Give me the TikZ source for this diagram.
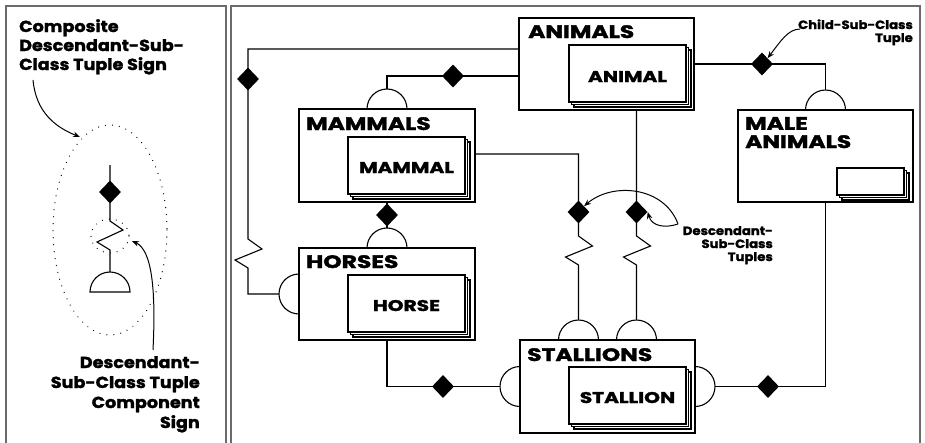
\documentclass[tikz,border=0pt]{standalone}
\usepackage{fontspec}
\setmainfont{Poppins}
\newfontfamily\heavyfont{Poppins}[BoldFeatures={FakeStretch=1.3,FakeBold=1.8}]
\newfontfamily\notefont{Poppins}[BoldFeatures={FakeStretch=1.1,FakeBold=1.6}]
\usetikzlibrary{shapes.geometric,shadows,arrows.meta}

\begin{document}
\begin{tikzpicture}[x=1pt,y=-1pt,
  panel/.style={draw=black!58, line width=1.4pt},
  outerbox/.style={draw, line width=2.2pt, fill=white, anchor=north west,
    inner sep=0pt, outer sep=0pt},
  innerbox/.style={draw, line width=1.9pt, fill=white, anchor=north west,
    inner sep=0pt, outer sep=0pt, minimum width=117pt, minimum height=57pt,
    double copy shadow={shadow xshift=2.5pt, shadow yshift=-2.5pt, line width=1.3pt}},
  title/.style={font=\heavyfont\bfseries\fontsize{18}{18}\selectfont,
    anchor=base west, inner sep=0pt},
  itext/.style={font=\heavyfont\bfseries\fontsize{15.5}{15.5}\selectfont,
    anchor=base, inner sep=0pt},
  note/.style={font=\notefont\bfseries\fontsize{#1}{#1}\selectfont, inner sep=0pt},
  conn/.style={draw, line width=1.1pt},
  semi/.style={draw, line width=1.1pt},
  dia/.style={diamond, fill=black, draw=none, minimum width=22pt,
    minimum height=23pt, inner sep=0pt},
  dots/.style={draw, line width=1.3pt, line cap=round,
    dash pattern=on 0.01pt off 7pt},
  arr/.style={draw, line width=1pt, -{Stealth[length=7pt,width=5.5pt]}},
]
\useasboundingbox (0,0) rectangle (925,442);

% ---------- panels ----------
\draw[panel] (6,460) -- (6,6) -- (226,6) -- (226,460);
\draw[panel] (231,460) -- (231,6) -- (920,6) -- (920,460);

% ---------- legend sign ----------
\draw[dots] (110,230) ellipse[x radius=57, y radius=105];
\draw[dots] (110,236) ellipse[x radius=19, y radius=17];
\coordinate (legTop) at (110,165);
\coordinate (legZig) at (110,221);
\coordinate (legSemi) at (110,292);
\coordinate (legSemiTip) at (110,272);
\draw[conn] (legTop) -- (legZig) -- ++(13,9) -- ++(-26,12) -- ++(13,8) -- (legSemiTip);
\draw[semi] ([xshift=-20pt]legSemi) arc[start angle=180, end angle=360, radius=20] -- cycle;
\node[dia] (legDia) at (110,192) {};

\node[note=16, anchor=base west] (compLbl) at (19,70)
  {\fontsize{16}{19}\selectfont\begin{tabular}[b]{@{}l@{}}Composite\\Descendant-Sub-\\Class Tuple Sign\end{tabular}};
\node[note=16, anchor=base east] (compoLbl) at (200,428)
  {\fontsize{16}{20}\selectfont\begin{tabular}[b]{@{}r@{}}Descendant-\\Sub-Class Tuple\\Component\\Sign\end{tabular}};
\coordinate (compFrom) at (33,80);
\coordinate (compTo) at (80,137);
\coordinate (compoFrom) at (153,350);
\coordinate (compoTo) at (132,241);
\draw[arr] (compFrom) .. controls (36,112) and (55,127) .. (compTo);
\draw[arr] (compoFrom) .. controls (156,290) and (152,250) .. (compoTo);

% ---------- class boxes ----------
\node[outerbox, minimum width=175pt, minimum height=92pt] (animals) at (519,18) {};
\node[outerbox, minimum width=176pt, minimum height=93pt] (mammals) at (299,109) {};
\node[outerbox, minimum width=176pt, minimum height=92pt] (horses) at (299,248) {};
\node[outerbox, minimum width=175pt, minimum height=93pt] (stallions) at (520,340) {};
\node[outerbox, minimum width=175pt, minimum height=92pt] (male) at (738,110) {};

\node[innerbox] (animal) at (569,45) {};
\node[innerbox] (mammal) at (348,137) {};
\node[innerbox] (horse) at (348,275) {};
\node[innerbox] (stallion) at (569,367) {};
\node[innerbox, minimum width=67pt, minimum height=27pt] (maleinner) at (837,168) {};

\node[title] (animalsT) at ([xshift=9pt,yshift=-20pt]animals.north west) {ANIMALS};
\node[title] (mammalsT) at ([xshift=7pt,yshift=-21pt]mammals.north west) {MAMMALS};
\node[title] (horsesT) at ([xshift=7pt,yshift=-20pt]horses.north west) {HORSES};
\node[title] (stallionsT) at ([xshift=7pt,yshift=-21pt]stallions.north west) {STALLIONS};
\node[title] (maleT) at ([xshift=7pt,yshift=-38pt]male.north west)
  {\begin{tabular}[b]{@{}l@{}}MALE\\ANIMALS\end{tabular}};

\node[itext] (animalT) at ([yshift=-37pt]animal.north) {ANIMAL};
\node[itext] (mammalT) at ([yshift=-36pt]mammal.north) {MAMMAL};
\node[itext] (horseT) at ([yshift=-36pt]horse.north) {HORSE};
\node[itext] (stallionT) at ([yshift=-36pt]stallion.north) {STALLION};

% ---------- half-disc sub-class markers ----------
\draw[semi] ([xshift=-20pt]mammals.north) arc[start angle=180, end angle=360, radius=20];
\draw[semi] ([xshift=-20pt]horses.north) arc[start angle=180, end angle=360, radius=20];
\draw[semi] ([xshift=-20pt]male.north) arc[start angle=180, end angle=360, radius=20];
\draw[semi] ([xshift=-49pt]stallions.north) arc[start angle=180, end angle=360, radius=20];
\draw[semi] ([xshift=9pt]stallions.north) arc[start angle=180, end angle=360, radius=20];
\draw[semi] ([yshift=-20pt]horses.west) arc[start angle=90, end angle=270, radius=20];
\draw[semi] ([yshift=-20pt]stallions.west) arc[start angle=90, end angle=270, radius=20];
\draw[semi] ([yshift=20pt]stallions.east) arc[start angle=-90, end angle=90, radius=20];

\coordinate (mamTip) at ([yshift=20pt]mammals.north);
\coordinate (horTip) at ([yshift=20pt]horses.north);
\coordinate (maleTip) at ([yshift=20pt]male.north);
\coordinate (stTipA) at ([xshift=-29pt,yshift=20pt]stallions.north);
\coordinate (stTipB) at ([xshift=29pt,yshift=20pt]stallions.north);
\coordinate (horLeftTip) at ([xshift=-20pt]horses.west);
\coordinate (stLeftTip) at ([xshift=-20pt]stallions.west);
\coordinate (stRightTip) at ([xshift=20pt]stallions.east);

% ---------- connectors ----------
\coordinate (zigA) at (248,239);
\coordinate (zigB) at (578.5,236);
\coordinate (zigC) at (636.5,236);
\draw[conn] ([yshift=-31pt]animals.north west) -| (zigA)
  -- ++(14,10) -- ++(-27,11) -- ++(13,8) |- (horLeftTip);
\draw[conn] ([yshift=-58pt]animals.north west) -| (mamTip);
\draw[conn] (mammals.south) -- (horTip);
\draw[conn] ([yshift=-45pt]mammals.north east) -| (zigB)
  -- ++(14,10) -- ++(-27,11) -- ++(13,8) -- (stTipA);
\draw[conn] (animals.south -| zigC) -- (zigC)
  -- ++(14,10) -- ++(-27,11) -- ++(13,8) -- (stTipB);
\draw[conn] (horses.south) |- (stLeftTip);
\draw[conn] (stRightTip) -| (male.south);
\draw[conn] ([yshift=-46pt]animals.north east) -| (maleTip);

\node[dia] (dA) at (248,79) {};
\node[dia] (dB) at (453,76) {};
\node[dia] (dC) at (387,215) {};
\node[dia] (dD) at (578.5,212) {};
\node[dia] (dE) at (636.5,212) {};
\node[dia] (dF) at (443,386.5) {};
\node[dia] (dG) at (768,386.5) {};
\node[dia] (dH) at (762,64) {};

% ---------- annotations ----------
\node[note=12, anchor=base east] (childLbl) at (913,42)
  {\fontsize{12}{13}\selectfont\begin{tabular}[b]{@{}r@{}}Child-Sub-Class\\Tuple\end{tabular}};
\node[note=12, anchor=base east] (descLbl) at (773,261)
  {\fontsize{12}{13}\selectfont\begin{tabular}[b]{@{}r@{}}Descendant-\\Sub-Class\\Tuples\end{tabular}};
\coordinate (childFrom) at (800,29);
\coordinate (descFrom) at (678,224);
\draw[arr] (childFrom) .. controls (788,29) and (780,42) .. (dH.north east);
\draw[arr] (descFrom) .. controls (664,186) and (612,182) .. (dD.north east);
\draw[arr] (descFrom) .. controls (666,228) and (652,227) .. (dE.east);
\end{tikzpicture}
\end{document}
